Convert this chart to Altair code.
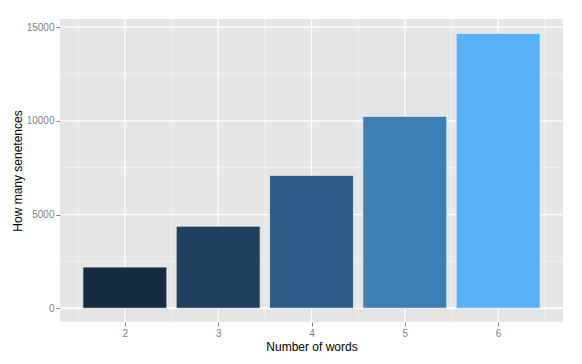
import altair as alt
import pandas as pd

words = [2, 3, 4, 5, 6]
counts = [2200, 4380, 7090, 10240, 14670]

major_x = [2, 3, 4, 5, 6]
minor_x = [1.5, 2.5, 3.5, 4.5, 5.5, 6.5]
major_y = [0, 5000, 10000, 15000]
minor_y = [2500, 7500, 12500]

df = pd.DataFrame({"words": words, "count": counts})

xscale = alt.Scale(domain=[1.305, 6.695], nice=False, zero=False)
yscale = alt.Scale(domain=[-735, 15435], nice=False, zero=False)

xaxis = alt.Axis(values=major_x, grid=False, domain=False, tickColor="#7F7F7F", tickSize=4,
                 labelColor="#7F7F7F", labelFontSize=10, labelPadding=2, format="d",
                 title="Number of words", titleFontSize=12, titleFontWeight="normal",
                 titleColor="black", titlePadding=3)
yaxis = alt.Axis(values=major_y, grid=False, domain=False, tickColor="#7F7F7F", tickSize=4,
                 labelColor="#7F7F7F", labelFontSize=10, labelPadding=2, format="d",
                 title="How many senetences", titleFontSize=12, titleFontWeight="normal",
                 titleColor="black", titlePadding=2)

minor_v = alt.Chart(pd.DataFrame({"v": minor_x})).mark_rule(color="#F2F2F2", strokeWidth=0.8).encode(
    x=alt.X("v:Q", scale=xscale, axis=xaxis))
minor_h = alt.Chart(pd.DataFrame({"v": minor_y})).mark_rule(color="#F2F2F2", strokeWidth=0.8).encode(
    y=alt.Y("v:Q", scale=yscale, axis=yaxis))
major_v = alt.Chart(pd.DataFrame({"v": major_x})).mark_rule(color="white", strokeWidth=1.3).encode(
    x=alt.X("v:Q", scale=xscale, axis=xaxis))
major_h = alt.Chart(pd.DataFrame({"v": major_y})).mark_rule(color="white", strokeWidth=1.3).encode(
    y=alt.Y("v:Q", scale=yscale, axis=yaxis))

bars = alt.Chart(df).transform_calculate(
    x0="datum.words - 0.45", x1="datum.words + 0.45", base="0"
).mark_rect(stroke="#F4F4F4", strokeWidth=0.8).encode(
    x=alt.X("x0:Q", scale=xscale, axis=xaxis),
    x2="x1:Q",
    y=alt.Y("count:Q", scale=yscale, axis=yaxis),
    y2="base:Q",
    color=alt.Color("count:Q", scale=alt.Scale(domain=[min(counts), max(counts)], range=["#132B43", "#56B1F7"],
                                               interpolate="lab", zero=False, nice=False),
                    legend=None),
)

chart = alt.layer(minor_v, minor_h, major_v, major_h, bars).properties(
    width=503, height=303,
    autosize=alt.AutoSizeParams(type="none"),
    padding={"left": 60, "top": 19, "right": 19, "bottom": 42},
    background="white",
).configure(font="Liberation Sans").configure_view(fill="#E5E5E5", stroke=None)

chart.save("out.html", embed_options={"renderer": "svg", "actions": False})
